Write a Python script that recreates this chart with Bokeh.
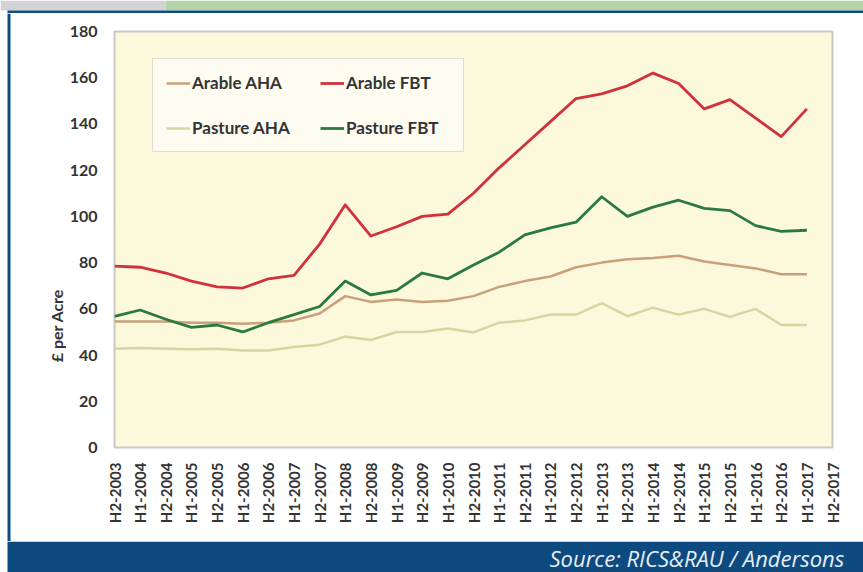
import math
from bokeh.plotting import figure
from bokeh.layouts import column, row
from bokeh.models import (Range1d, FixedTicker, Legend, LegendItem, BoxAnnotation, Label,
                          ColumnDataSource)
from bokeh.embed import file_html
from bokeh.resources import INLINE

periods = ["H2-2003", "H1-2004", "H2-2004", "H1-2005", "H2-2005", "H1-2006", "H2-2006",
           "H1-2007", "H2-2007", "H1-2008", "H2-2008", "H1-2009", "H2-2009", "H1-2010",
           "H2-2010", "H1-2011", "H2-2011", "H1-2012", "H2-2012", "H1-2013", "H2-2013",
           "H1-2014", "H2-2014", "H1-2015", "H2-2015", "H1-2016", "H2-2016", "H1-2017",
           "H2-2017"]

arable_aha = [54.5, 54.5, 54.5, 54, 54, 53.5, 54, 55, 58, 65.5, 63, 64, 63, 63.5,
              65.5, 69.5, 72, 74, 78, 80, 81.5, 82, 83, 80.5, 79, 77.5, 75, 75]
arable_fbt = [78.5, 78, 75.5, 72, 69.5, 69, 73, 74.5, 88, 105, 91.5, 95.5, 100, 101,
              110, 121, 131, 141, 151, 153, 156.5, 162, 157.5, 146.5, 150.5, 142.5, 134.5, 146.5]
pasture_aha = [42.7, 43, 42.7, 42.5, 42.7, 42, 42, 43.5, 44.5, 48, 46.5, 50, 50, 51.5,
               49.8, 54, 55, 57.5, 57.5, 62.5, 56.8, 60.5, 57.5, 60, 56.5, 60, 53, 53]
pasture_fbt = [56.7, 59.5, 55.5, 52, 53, 50, 54, 57.5, 61, 72, 66, 68, 75.5, 73,
               79, 84.5, 92, 95, 97.5, 108.5, 100, 104, 107, 103.5, 102.5, 96, 93.5, 94]

y_ticks = [0, 20, 40, 60, 80, 100, 120, 140, 160, 180]

series = [
    ("Arable AHA", arable_aha, "#c9a07a", 2.5),
    ("Arable FBT", arable_fbt, "#d0313b", 2.8),
    ("Pasture AHA", pasture_aha, "#d8d5a2", 2.5),
    ("Pasture FBT", pasture_fbt, "#2b7a3c", 2.8),
]

BLUE = "#0f4c84"
W, H = 863, 572
TOP_H = 13          # grey/green band + blue rule
BOT_H = 31          # blue source bar
MID_H = H - TOP_H - BOT_H
LEFT_W = 66         # strip holding the left blue rule and the y-axis title
FL, FR, FT, FB = 114, 832, 31, 447   # frame edges in page pixels


def decor_fig(w, h, bg="#ffffff"):
    f = figure(width=w, height=h, output_backend="svg", toolbar_location=None,
               x_range=Range1d(0, w), y_range=Range1d(h, 0),
               x_axis_type=None, y_axis_type=None,
               min_border_left=0, min_border_right=0, min_border_top=0, min_border_bottom=0)
    f.outline_line_color = None
    f.background_fill_color = bg
    f.border_fill_color = bg
    f.frame_align = False
    return f


def box(f, x0, y0, x1, y1, color):
    f.add_layout(BoxAnnotation(left=x0, right=x1, top=y0, bottom=y1,
                               fill_color=color, fill_alpha=1, line_color=None))


# top band
top = decor_fig(W, TOP_H)
box(top, 0, 0, 165, 10, "#d1d3d4")
box(top, 165, 0, W, 10, "#b5d5a8")
box(top, 7, 10, W, 13, BLUE)

# left strip with the y-axis title
left = decor_fig(LEFT_W, MID_H)
box(left, 7, 0, 10, MID_H, BLUE)
left.add_layout(Label(x=56, y=325 - TOP_H, text="£ per Acre", angle=math.pi / 2,
                      text_align="center", text_baseline="middle", text_font="Lato",
                      text_font_style="bold", text_font_size="16px", text_color="#333333"))

# bottom bar with source
bottom = decor_fig(W, BOT_H)
box(bottom, 7, 0, W, BOT_H, "#0d4a80")
bottom.add_layout(Label(x=549, y=16, text="Source: RICS&RAU / Andersons",
                        text_align="left", text_baseline="middle",
                        text_font="Open Sans", text_font_style="italic",
                        text_font_size="22px", text_color="#e8eef5"))

# main chart
p = figure(width=W - LEFT_W, height=MID_H, output_backend="svg", toolbar_location=None,
           x_range=Range1d(0, len(periods) - 1), y_range=Range1d(0, 180),
           min_border_left=FL - LEFT_W, min_border_right=W - FR,
           min_border_top=FT - TOP_H, min_border_bottom=TOP_H + MID_H - FB)
p.frame_align = False

p.background_fill_color = "#fbf8dc"
p.border_fill_color = "#ffffff"
p.outline_line_color = "#c9c9c2"
p.outline_line_width = 2
p.xgrid.grid_line_color = None
p.ygrid.grid_line_color = None

items = []
for name, vals, col, lw in series:
    src = ColumnDataSource(dict(x=list(range(len(vals))), y=vals))
    r = p.line("x", "y", source=src, line_color=col, line_width=lw, line_join="round")
    items.append(LegendItem(label=name, renderers=[r]))

for ax in (p.xaxis[0], p.yaxis[0]):
    ax.axis_line_color = None
    ax.major_tick_line_color = None
    ax.minor_tick_line_color = None
    ax.major_tick_out = 0
    ax.major_tick_in = 0
    ax.minor_tick_out = 0
    ax.minor_tick_in = 0
    ax.major_label_text_font = "Lato"
    ax.major_label_text_font_style = "bold"
    ax.major_label_text_color = "#333333"

xa = p.xaxis[0]
xa.ticker = FixedTicker(ticks=list(range(len(periods))))
xa.major_label_overrides = {i: s for i, s in enumerate(periods)}
xa.major_label_orientation = math.pi / 2
xa.major_label_standoff = 15
xa.major_label_text_font_size = "15px"

ya = p.yaxis[0]
ya.ticker = FixedTicker(ticks=y_ticks)
ya.major_label_standoff = 17
ya.major_label_text_font_size = "16px"

legend = Legend(items=items, orientation="horizontal", ncols=2, location=(38, 295),
                label_text_font="Lato", label_text_font_style="bold",
                label_text_font_size="17px", label_text_color="#333333",
                glyph_width=24, glyph_height=20, label_height=20, label_standoff=2,
                label_width=104, spacing=24, padding=13, margin=0,
                border_line_color="#bdbdb5", border_line_width=1.5,
                background_fill_color="#fefcf0", background_fill_alpha=1)
p.add_layout(legend, "center")

layout = column(top, row(left, p, spacing=0), bottom, spacing=0)

open("out.html", "w").write(file_html(layout, INLINE))
